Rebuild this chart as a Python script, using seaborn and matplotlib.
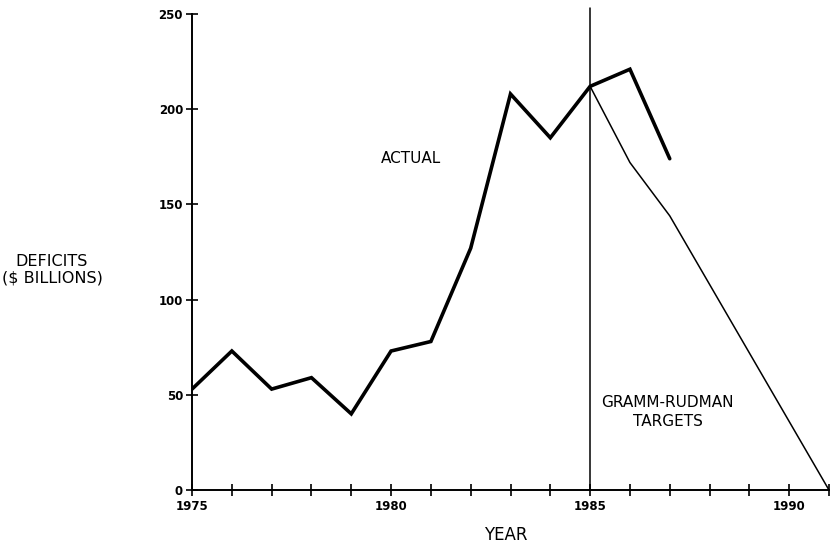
import pandas as pd
import matplotlib
matplotlib.use("Agg")
import matplotlib.pyplot as plt
import seaborn as sns

# deficit data ($ billions)
actual_years = [1975, 1976, 1977, 1978, 1979, 1980, 1981, 1982, 1983, 1984, 1985, 1986, 1987]
actual_deficit = [53, 73, 53, 59, 40, 73, 78, 127, 208, 185, 212, 221, 174]

target_years = [1985, 1986, 1987, 1988, 1989, 1990, 1991]
target_deficit = [212, 172, 144, 108, 72, 36, 0]

x_ticks = list(range(1975, 1992))
x_labels = ["1975" if y == 1975 else "1980" if y == 1980 else "1985" if y == 1985
            else "1990" if y == 1990 else "" for y in x_ticks]
y_ticks = [0, 50, 100, 150, 200, 250]

actual_df = pd.DataFrame({"year": actual_years, "deficit": actual_deficit})
target_df = pd.DataFrame({"year": target_years, "deficit": target_deficit})

sns.set_style("white")
plt.rcParams["font.family"] = ["DejaVu Sans"]
plt.rcParams["text.color"] = "black"
plt.rcParams["xtick.color"] = "black"
plt.rcParams["ytick.color"] = "black"

fig = plt.figure(figsize=(8.36, 5.47), dpi=100)
ax = fig.add_axes([0.2297, 0.1042, 0.7619, 0.8702])

sns.lineplot(data=actual_df, x="year", y="deficit", ax=ax, color="black",
             linewidth=2.6, solid_joinstyle="miter")
sns.lineplot(data=target_df, x="year", y="deficit", ax=ax, color="black",
             linewidth=1.1)

# 1985 marker line
ax.plot([1985, 1985], [0, 253], color="black", linewidth=1.1, clip_on=False)

ax.set_xlim(1975, 1991)
ax.set_ylim(0, 250)
ax.set_xticks(x_ticks)
ax.set_xticklabels(x_labels, fontsize=8.5, fontweight="bold")
ax.set_yticks(y_ticks)
ax.set_yticklabels([str(v) for v in y_ticks], fontsize=8.5, fontweight="bold")
ax.tick_params(axis="both", direction="inout", length=9, width=1.2, color="black",
               labelcolor="black", bottom=True, left=True)
ax.tick_params(axis="x", pad=3)
ax.tick_params(axis="y", pad=2)
ax.set_xlabel("")
ax.set_ylabel("")

for s in ["top", "right"]:
    ax.spines[s].set_visible(False)
for s in ["left", "bottom"]:
    ax.spines[s].set_color("black")
    ax.spines[s].set_linewidth(1.4)

ax.text(1980.5, 174, "ACTUAL", fontsize=11, ha="center", va="center")
ax.text(1986.95, 41, "GRAMM-RUDMAN\nTARGETS", fontsize=11, ha="center", va="center",
        linespacing=1.3)

fig.text(506 / 836, 1 - 535 / 547, "YEAR", fontsize=12, ha="center", va="center")
fig.text(52 / 836, 1 - 270 / 547, "DEFICITS\n($ BILLIONS)", fontsize=11.5,
         ha="center", va="center", linespacing=1.1)

fig.savefig("out.png", dpi=100)
